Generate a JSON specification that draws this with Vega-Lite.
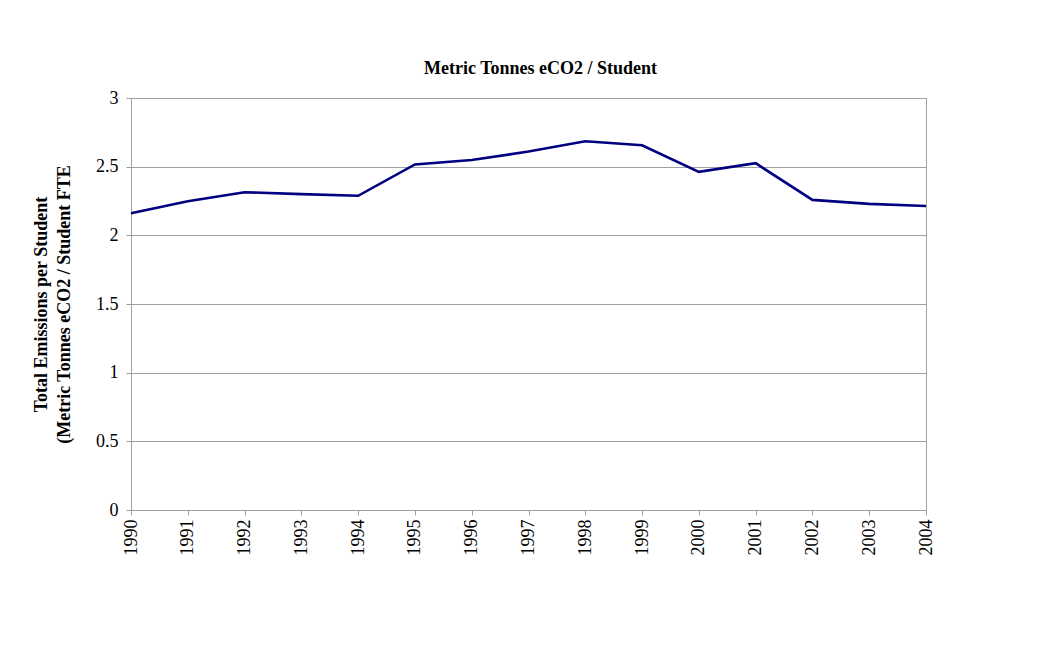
{
  "$schema": "https://vega.github.io/schema/vega-lite/v6.json",
  "width": 795,
  "height": 412,
  "autosize": {"type": "none"},
  "padding": {"left": 131, "top": 98, "right": 136, "bottom": 135},
  "background": "white",
  "title": {
    "text": "Metric Tonnes eCO2 / Student",
    "font": "Liberation Serif",
    "fontSize": 18,
    "fontWeight": "bold",
    "color": "black",
    "offset": 11,
    "dx": 12
  },
  "config": {
    "view": {"stroke": "#a0a0a0", "strokeWidth": 1},
    "axis": {
      "labelFont": "Liberation Serif",
      "titleFont": "Liberation Serif",
      "labelColor": "black",
      "titleColor": "black",
      "domainColor": "#a0a0a0",
      "tickColor": "#a0a0a0",
      "gridColor": "#a0a0a0"
    }
  },
  "data": {
    "values": [
      {"year": "1990", "value": 2.161},
      {"year": "1991", "value": 2.248},
      {"year": "1992", "value": 2.314},
      {"year": "1993", "value": 2.300},
      {"year": "1994", "value": 2.288},
      {"year": "1995", "value": 2.516},
      {"year": "1996", "value": 2.548},
      {"year": "1997", "value": 2.610},
      {"year": "1998", "value": 2.685},
      {"year": "1999", "value": 2.656},
      {"year": "2000", "value": 2.462},
      {"year": "2001", "value": 2.525},
      {"year": "2002", "value": 2.258},
      {"year": "2003", "value": 2.229},
      {"year": "2004", "value": 2.214}
    ]
  },
  "mark": {"type": "line", "color": "#000080", "strokeWidth": 2.6},
  "encoding": {
    "x": {
      "field": "year",
      "type": "ordinal",
      "scale": {"type": "point", "padding": 0},
      "axis": {
        "title": null,
        "labelAngle": -90,
        "labelFontSize": 18,
        "labelPadding": 4,
        "tickSize": 5,
        "grid": false
      }
    },
    "y": {
      "field": "value",
      "type": "quantitative",
      "scale": {"domain": [0, 3], "nice": false},
      "axis": {
        "values": [0, 0.5, 1, 1.5, 2, 2.5, 3],
        "format": "~g",
        "title": ["Total Emissions per Student", "(Metric Tonnes eCO2 / Student FTE"],
        "titleFontSize": 18,
        "titleFontWeight": "bold",
        "titleLineHeight": 23,
        "titlePadding": 22,
        "labelFontSize": 18,
        "labelPadding": 8,
        "tickSize": 5,
        "grid": true
      }
    }
  }
}
